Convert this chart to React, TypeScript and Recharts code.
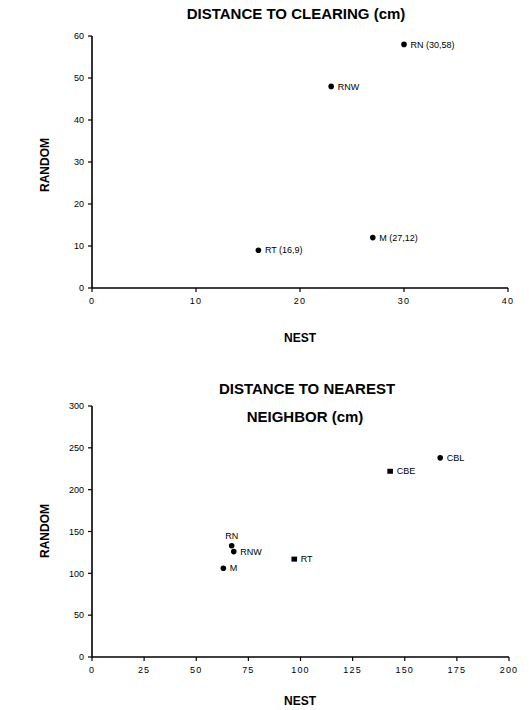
import React from 'react';
import { ScatterChart, Scatter, XAxis, YAxis } from 'recharts';

// ---- Data: distance to clearing (cm)
const clearingNames = ['RN', 'RNW', 'M', 'RT'];
const clearingNest = [30, 23, 27, 16];
const clearingRandom = [58, 48, 12, 9];
const clearingLabels = ['RN (30,58)', 'RNW', 'M (27,12)', 'RT (16,9)'];
const clearingXTicks = [0, 10, 20, 30, 40];
const clearingYTicks = [0, 10, 20, 30, 40, 50, 60];

// ---- Data: distance to nearest neighbor (cm)
const neighborNames = ['CBL', 'CBE', 'RN', 'RNW', 'M', 'RT'];
const neighborNest = [167, 143, 67, 68, 63, 97];
const neighborRandom = [238, 222, 133, 126, 106, 117];
const neighborMarkers = ['circle', 'square', 'circle', 'circle', 'circle', 'square'];
const neighborXTicks = [0, 25, 50, 75, 100, 125, 150, 175, 200];
const neighborYTicks = [0, 50, 100, 150, 200, 250, 300];

// label placement (style, kept apart from data)
const labelAbove: Record<string, boolean> = { RN: true };

const clearingData = clearingNames.map((n, i) => ({
  name: n,
  x: clearingNest[i],
  y: clearingRandom[i],
  label: clearingLabels[i],
  marker: 'circle',
  above: false,
}));

const neighborData = neighborNames.map((n, i) => ({
  name: n,
  x: neighborNest[i],
  y: neighborRandom[i],
  label: n,
  marker: neighborMarkers[i],
  above: !!labelAbove[n],
}));

const FONT = '"Liberation Sans", Arial, Helvetica, sans-serif';

const PointShape = (props: any) => {
  const { cx, cy, payload } = props;
  if (cx == null || cy == null) return null;
  const marker =
    payload.marker === 'square' ? (
      <rect x={cx - 2.8} y={cy - 2.5} width={5.6} height={5} fill="#000" />
    ) : (
      <circle cx={cx} cy={cy} r={2.8} fill="#000" />
    );
  const text = payload.above ? (
    <text x={cx} y={cy - 7} textAnchor="middle" fontSize={9} fontFamily={FONT} fill="#000">
      {payload.label}
    </text>
  ) : (
    <text x={cx + 6.5} y={cy} dy="0.35em" textAnchor="start" fontSize={9} fontFamily={FONT} fill="#000">
      {payload.label}
    </text>
  );
  return (
    <g>
      {marker}
      {text}
    </g>
  );
};

const tickStyle = { fontSize: 9, fontFamily: FONT, fill: '#000' };
const xTickStyle = { ...tickStyle, letterSpacing: 1.2 };

const titleStyle: React.CSSProperties = {
  position: 'absolute',
  fontFamily: FONT,
  fontWeight: 'bold',
  color: '#000',
  whiteSpace: 'nowrap',
  lineHeight: 1,
};

const Title = ({ x, y, size, text, rotate }: { x: number; y: number; size: number; text: string; rotate?: boolean }) => (
  <div
    style={{
      ...titleStyle,
      left: x,
      top: y,
      fontSize: size,
      transform: rotate ? 'translate(-50%, -50%) rotate(-90deg)' : 'translate(-50%, -50%)',
    }}
  >
    {text}
  </div>
);

const axisProps = {
  axisLine: { stroke: '#000', strokeWidth: 1.6 },
  tickLine: { stroke: '#000', strokeWidth: 1.2 },
  tickSize: 4,
};

export default function App() {
  return (
    <div style={{ position: 'absolute', left: 0, top: 0, width: 529, height: 710, background: '#fff' }}>
      <div style={{ position: 'absolute', left: 0, top: 0 }}>
        <ScatterChart width={529} height={320} margin={{ top: 36, right: 21, bottom: 2, left: 0 }}>
          <XAxis
            type="number"
            dataKey="x"
            domain={[0, 40]}
            ticks={clearingXTicks}
            height={30}
            tick={xTickStyle}
            tickMargin={6}
            {...axisProps}
          />
          <YAxis
            type="number"
            dataKey="y"
            domain={[0, 60]}
            ticks={clearingYTicks}
            width={92}
            tick={tickStyle}
            tickMargin={4}
            {...axisProps}
          />
          <Scatter data={clearingData} shape={PointShape} isAnimationActive={false} />
        </ScatterChart>
      </div>
      <div style={{ position: 'absolute', left: 0, top: 370 }}>
        <ScatterChart width={529} height={319} margin={{ top: 36, right: 20, bottom: 2, left: 0 }}>
          <XAxis
            type="number"
            dataKey="x"
            domain={[0, 200]}
            ticks={neighborXTicks}
            height={30}
            tick={xTickStyle}
            tickMargin={6}
            {...axisProps}
          />
          <YAxis
            type="number"
            dataKey="y"
            domain={[0, 300]}
            ticks={neighborYTicks}
            width={92}
            tick={tickStyle}
            tickMargin={4}
            {...axisProps}
          />
          <Scatter data={neighborData} shape={PointShape} isAnimationActive={false} />
        </ScatterChart>
      </div>
      <Title x={296} y={13} size={15} text="DISTANCE TO CLEARING (cm)" />
      <Title x={300} y={338} size={12} text="NEST" />
      <Title x={45} y={165} size={12} text="RANDOM" rotate />
      <Title x={307} y={388} size={15} text="DISTANCE TO NEAREST" />
      <Title x={305} y={416} size={15} text="NEIGHBOR (cm)" />
      <Title x={300} y={701} size={12} text="NEST" />
      <Title x={45} y={531} size={12} text="RANDOM" rotate />
    </div>
  );
}
